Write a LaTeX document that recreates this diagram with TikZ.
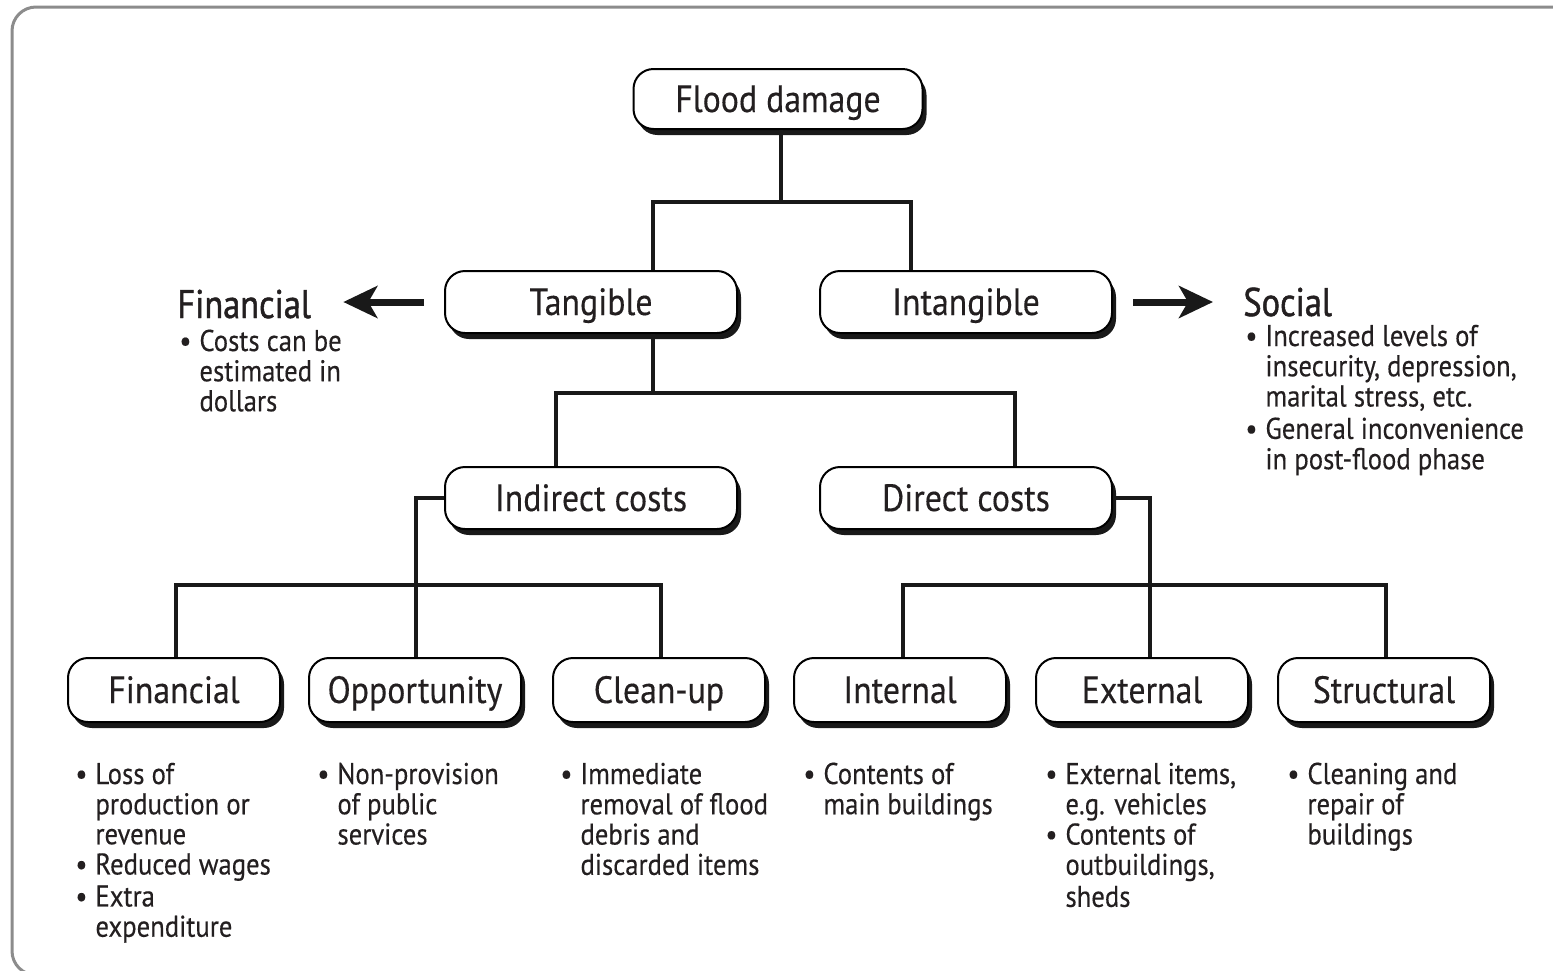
\documentclass[tikz,border=0pt]{standalone}
\usepackage{fontspec}
\setmainfont{PT Sans}[FakeStretch=0.89,FakeBold=0.3]
\newfontfamily\headfont{PT Sans}[FakeStretch=0.86,FakeBold=1.2]
\usetikzlibrary{arrows.meta,shadows}
\definecolor{textc}{HTML}{231F20}
\newcommand{\blist}[1]{\begin{tabular}[t]{@{}l@{\hspace{4pt}}l@{}}#1\end{tabular}}
\tikzset{
  box/.style={draw=black, line width=1pt, fill=white, rounded corners=10pt,
    drop shadow={shadow xshift=2pt, shadow yshift=-3pt, fill=black!90, opacity=1},
    font=\fontsize{19}{19}\selectfont, text=textc, inner sep=0pt,
    text height=13pt, text depth=0pt},
  bigbox/.style={box, minimum width=146pt, minimum height=31pt},
  smallbox/.style={box, minimum width=106pt, minimum height=32pt},
  conn/.style={draw=black!90, line width=1.8pt},
  bigarrow/.style={draw=black!90, line width=3.5pt, -{Stealth[length=17pt,width=16pt,inset=4.5pt]}},
  listtext/.style={font=\fontsize{15}{15}\selectfont, text=textc, inner sep=0pt, anchor=base west},
  headtext/.style={font=\headfont\fontsize{20}{20}\selectfont, text=textc, inner sep=0pt, anchor=base west},
}
\begin{document}
\begin{tikzpicture}[x=0.5pt, y=-0.5pt]
\useasboundingbox (0,0) rectangle (1553,970);
% frame
\draw[black!45, line width=1.5pt, rounded corners=12pt] (1570,7) -- (12,7) -- (12,975) -- (80,975);

% boxes
\node[box, minimum width=144.5pt, minimum height=30pt] (flood) at (778,99) {Flood damage};
\node[bigbox] (tang) at (591,302) {Tangible};
\node[bigbox] (intang) at (966,302) {Intangible};
\node[bigbox] (ind) at (591,498) {Indirect costs};
\node[bigbox] (dir) at (966,498) {Direct costs};
\node[smallbox] (fin) at (174,690) {Financial};
\node[smallbox] (opp) at (415,690) {Opportunity};
\node[smallbox] (clean) at (659,690) {Clean-up};
\node[smallbox] (int) at (900,690) {Internal};
\node[smallbox] (ext) at (1142,690) {External};
\node[smallbox] (str) at (1384,690) {Structural};

% junction coordinates
\coordinate (j1) at (781,202);
\coordinate (tA) at (653,202);
\coordinate (iA) at (911,202);
\coordinate (j2) at (653,393);
\coordinate (indA) at (556,393);
\coordinate (dirA) at (1015,393);
\coordinate (k1) at (416,585);
\coordinate (finA) at (176,585);
\coordinate (clA) at (661,585);
\coordinate (k2) at (1150,585);
\coordinate (intA) at (903,585);
\coordinate (stA) at (1386,585);

% connectors
\draw[conn] (flood.south -| j1) -- (j1);
\draw[conn] (tang.north -| tA) -- (tA) -- (iA) -- (intang.north -| iA);
\draw[conn] (tang.south -| j2) -- (j2);
\draw[conn] (ind.north -| indA) -- (indA) -- (dirA) -- (dir.north -| dirA);
\draw[conn] (ind.west) -- (ind.west -| k1) -- (opp.north -| k1);
\draw[conn] (fin.north -| finA) -- (finA) -- (clA) -- (clean.north -| clA);
\draw[conn] (dir.east) -- (dir.east -| k2) -- (ext.north -| k2);
\draw[conn] (int.north -| intA) -- (intA) -- (stA) -- (str.north -| stA);

% side headings
\node[headtext] (finhead) at (177,318) {Financial};
\node[listtext] (finlist) at (179,351) {\blist{\textbullet & Costs can be\\ & estimated in\\ & dollars}};
\node[headtext] (sochead) at (1243,316) {Social};
\node[listtext] (soclist) at (1245,346) {\blist{\textbullet & Increased levels of\\ & insecurity, depression,\\ & marital stress, etc.\\[1pt] \textbullet & General inconvenience\\ & in post-flood phase}};

% arrows
\draw[bigarrow] ([xshift=-10pt]tang.west) -- ([xshift=16pt]finhead.east |- tang.west);
\draw[bigarrow] ([xshift=10pt]intang.east) -- ([xshift=-15pt]sochead.west |- intang.east);

% bottom lists
\node[listtext] (l1) at (75,784) {\blist{\textbullet & Loss of\\ & production or\\ & revenue\\ \textbullet & Reduced wages\\[1pt] \textbullet & Extra\\ & expenditure}};
\node[listtext] (l2) at (317,784) {\blist{\textbullet & Non-provision\\ & of public\\ & services}};
\node[listtext] (l3) at (560,784) {\blist{\textbullet & Immediate\\ & removal of flood\\ & debris and\\ & discarded items}};
\node[listtext] (l4) at (803,784) {\blist{\textbullet & Contents of\\ & main buildings}};
\node[listtext] (l5) at (1045,784) {\blist{\textbullet & External items,\\ & e.g. vehicles\\ \textbullet & Contents of\\ & outbuildings,\\[1pt] & sheds}};
\node[listtext] (l6) at (1287,784) {\blist{\textbullet & Cleaning and\\ & repair of\\ & buildings}};
\end{tikzpicture}
\end{document}
